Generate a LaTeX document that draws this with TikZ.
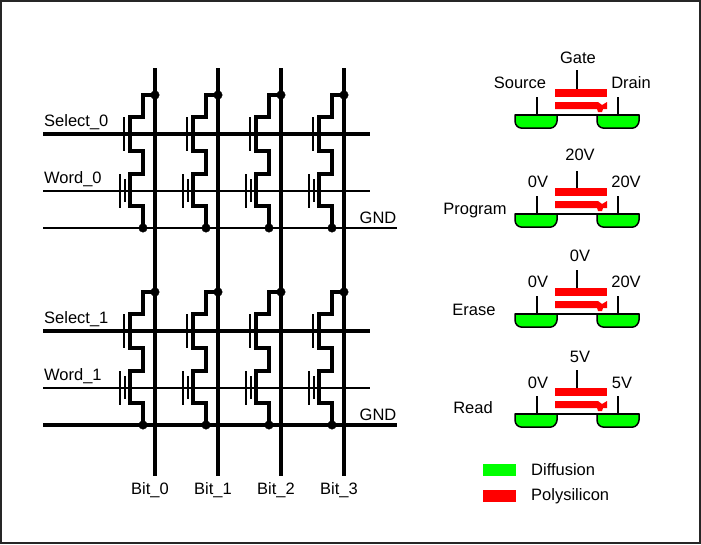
\documentclass[tikz,border=0pt]{standalone}
\usepackage{fontspec}
\setmainfont{Liberation Sans}
\usepackage{tikz}
\usetikzlibrary{calc}
\definecolor{diffgreen}{RGB}{0,255,0}
\definecolor{polyred}{RGB}{255,0,0}
\tikzset{
    lbl/.style={font=\fontsize{16.5}{18}\selectfont, inner sep=0pt},
    wire/.style={line width=3.2pt, miter limit=10},
    thinwire/.style={line width=2.2pt},
    junction/.style={draw, circle, fill=black, inner sep=0pt, minimum size=8.5pt},
    diffusion/.style={draw=black, line width=1.5pt, fill=diffgreen},
    poly/.style={fill=polyred},
    frame/.style={draw=black!85, line width=2pt},
}
% one select transistor and one floating gate transistor in series
\newcommand{\flashcell}[3]{
    \node[junction] (#1-top) at (#2,#3) {};
    \node[junction] (#1-gnd) at (#2-12,#3+133) {};
    \draw[wire] (#1-top.center) -- ++(-12,0) -- ++(0,22) -- ++(-13,0) -- ++(0,34) -- ++(13,0)
        -- ++(0,23) -- ++(-13,0) -- ++(0,32) -- ++(13,0) -- (#1-gnd.center);
    \path (#2-31,#3+22) coordinate (#1-sel-a) +(0,34) coordinate (#1-sel-b);
    \path (#2-35,#3+79) coordinate (#1-ctl-a) +(0,34) coordinate (#1-ctl-b);
    \path (#2-30,#3+84) coordinate (#1-flt-a) +(0,23) coordinate (#1-flt-b);
    \draw[thinwire] (#1-sel-a) -- (#1-sel-b);
    \draw[thinwire] (#1-ctl-a) -- (#1-ctl-b);
    \draw[thinwire] (#1-flt-a) -- (#1-flt-b);
}
% cross section, #2 is the top edge of the upper poly plate
\newcommand{\flashsection}[3]{
    \path (555,#2) coordinate (#1-poly) ++(22,0) coordinate (#1-gate) +(0,-#3) coordinate (#1-gate-end);
    \path (515,#2+26) coordinate (#1-base) +(124,0) coordinate (#1-base-end)
        +(22,0) coordinate (#1-source) +(103,0) coordinate (#1-drain);
    \path (#1-source) +(0,-18) coordinate (#1-source-end);
    \path (#1-drain) +(0,-18) coordinate (#1-drain-end);
    \fill[poly] (#1-poly) rectangle +(52,8);
    \fill[poly] (#1-poly) ++(0,13) -- ++(43,0) -- ++(4,3) -- ++(5,-3) -- ++(0,7) -- ++(-4,0)
        -- ++(-1,3) -- ++(-4,0) -- ++(-1,-3) -- ++(-42,0) -- cycle;
    \draw[diffusion] (#1-base) -- ++(0,6) .. controls +(0,4) and +(-3,0) .. ++(6,7) -- ++(30,0)
        .. controls +(3,0) and +(0,3) .. ++(6,-7) -- ++(0,-6) -- cycle;
    \draw[diffusion] (#1-base) ++(82,0) -- ++(0,6) .. controls +(0,4) and +(-3,0) .. ++(6,7) -- ++(30,0)
        .. controls +(3,0) and +(0,3) .. ++(6,-7) -- ++(0,-6) -- cycle;
    \draw[thinwire] (#1-base) -- (#1-base-end);
    \draw[thinwire] (#1-source) -- (#1-source-end);
    \draw[thinwire] (#1-drain) -- (#1-drain-end);
    \draw[thinwire] (#1-gate) -- (#1-gate-end);
}
\begin{document}
\begin{tikzpicture}[x=1pt,y=-1pt]
    \useasboundingbox (0,0) rectangle (701,544);
    \path[frame] (1,1) rectangle (700,543);

    \path
        (43,134) coordinate (select0) +(327,0) coordinate (select0-end)
        (43,191) coordinate (word0) +(327,0) coordinate (word0-end)
        (43,228) coordinate (gnd0) +(354,0) coordinate (gnd0-end)
        (43,331) coordinate (select1) +(327,0) coordinate (select1-end)
        (43,388) coordinate (word1) +(327,0) coordinate (word1-end)
        (43,425) coordinate (gnd1) +(354,0) coordinate (gnd1-end);
    \path
        (155,68) coordinate (bit0) +(0,408) coordinate (bit0-end)
        (218,68) coordinate (bit1) +(0,408) coordinate (bit1-end)
        (281,68) coordinate (bit2) +(0,408) coordinate (bit2-end)
        (344,68) coordinate (bit3) +(0,408) coordinate (bit3-end);

    \draw[wire] (bit0) -- (bit0-end);
    \draw[wire] (bit1) -- (bit1-end);
    \draw[wire] (bit2) -- (bit2-end);
    \draw[wire] (bit3) -- (bit3-end);

    \draw[wire] (select0) -- (select0-end);
    \draw[wire] (select1) -- (select1-end);
    \draw[wire] (gnd1) -- (gnd1-end);
    \draw[thinwire] (word0) -- (word0-end);
    \draw[thinwire] (word1) -- (word1-end);
    \draw[thinwire] (gnd0) -- (gnd0-end);

    \flashcell{c00}{155}{95}
    \flashcell{c01}{218}{95}
    \flashcell{c02}{281}{95}
    \flashcell{c03}{344}{95}
    \flashcell{c10}{155}{292}
    \flashcell{c11}{218}{292}
    \flashcell{c12}{281}{292}
    \flashcell{c13}{344}{292}

    \node[lbl, anchor=west] (select0-lbl) at (44,122) {Select\_0};
    \node[lbl, anchor=west] (word0-lbl) at (44,179) {Word\_0};
    \node[lbl, anchor=west] (select1-lbl) at (44,319) {Select\_1};
    \node[lbl, anchor=west] (word1-lbl) at (44,376) {Word\_1};
    \node[lbl] (gnd0-lbl) at (378,218) {GND};
    \node[lbl] (gnd1-lbl) at (378,415) {GND};
    \node[lbl] (bit0-lbl) at (150,490) {Bit\_0};
    \node[lbl] (bit1-lbl) at (213,490) {Bit\_1};
    \node[lbl] (bit2-lbl) at (276,490) {Bit\_2};
    \node[lbl] (bit3-lbl) at (339,490) {Bit\_3};

    \flashsection{gatecell}{89}{19}
    \flashsection{program}{188}{17}
    \flashsection{erase}{288}{18}
    \flashsection{read}{388}{18}

    \node[lbl] (gate-lbl) at (578,58) {Gate};
    \node[lbl] (source-lbl) at (520,83) {Source};
    \node[lbl] (drain-lbl) at (631,83) {Drain};

    \node[lbl] (program-lbl) at (475,211) {Program};
    \node[lbl] (program-g) at (580,155) {20V};
    \node[lbl] (program-s) at (538,182) {0V};
    \node[lbl] (program-d) at (626,182) {20V};

    \node[lbl] (erase-lbl) at (474,310) {Erase};
    \node[lbl] (erase-g) at (580,256) {0V};
    \node[lbl] (erase-s) at (538,282) {0V};
    \node[lbl] (erase-d) at (626,282) {20V};

    \node[lbl] (read-lbl) at (473,408) {Read};
    \node[lbl] (read-g) at (580,357) {5V};
    \node[lbl] (read-s) at (538,383) {0V};
    \node[lbl] (read-d) at (622,383) {5V};

    \fill[diffgreen] (483,464) rectangle (516,476);
    \fill[polyred] (483,490) rectangle (516,502);
    \node[lbl, anchor=west] (diffusion-lbl) at (531,470) {Diffusion};
    \node[lbl, anchor=west] (polysilicon-lbl) at (531,496) {Polysilicon};
\end{tikzpicture}
\end{document}
